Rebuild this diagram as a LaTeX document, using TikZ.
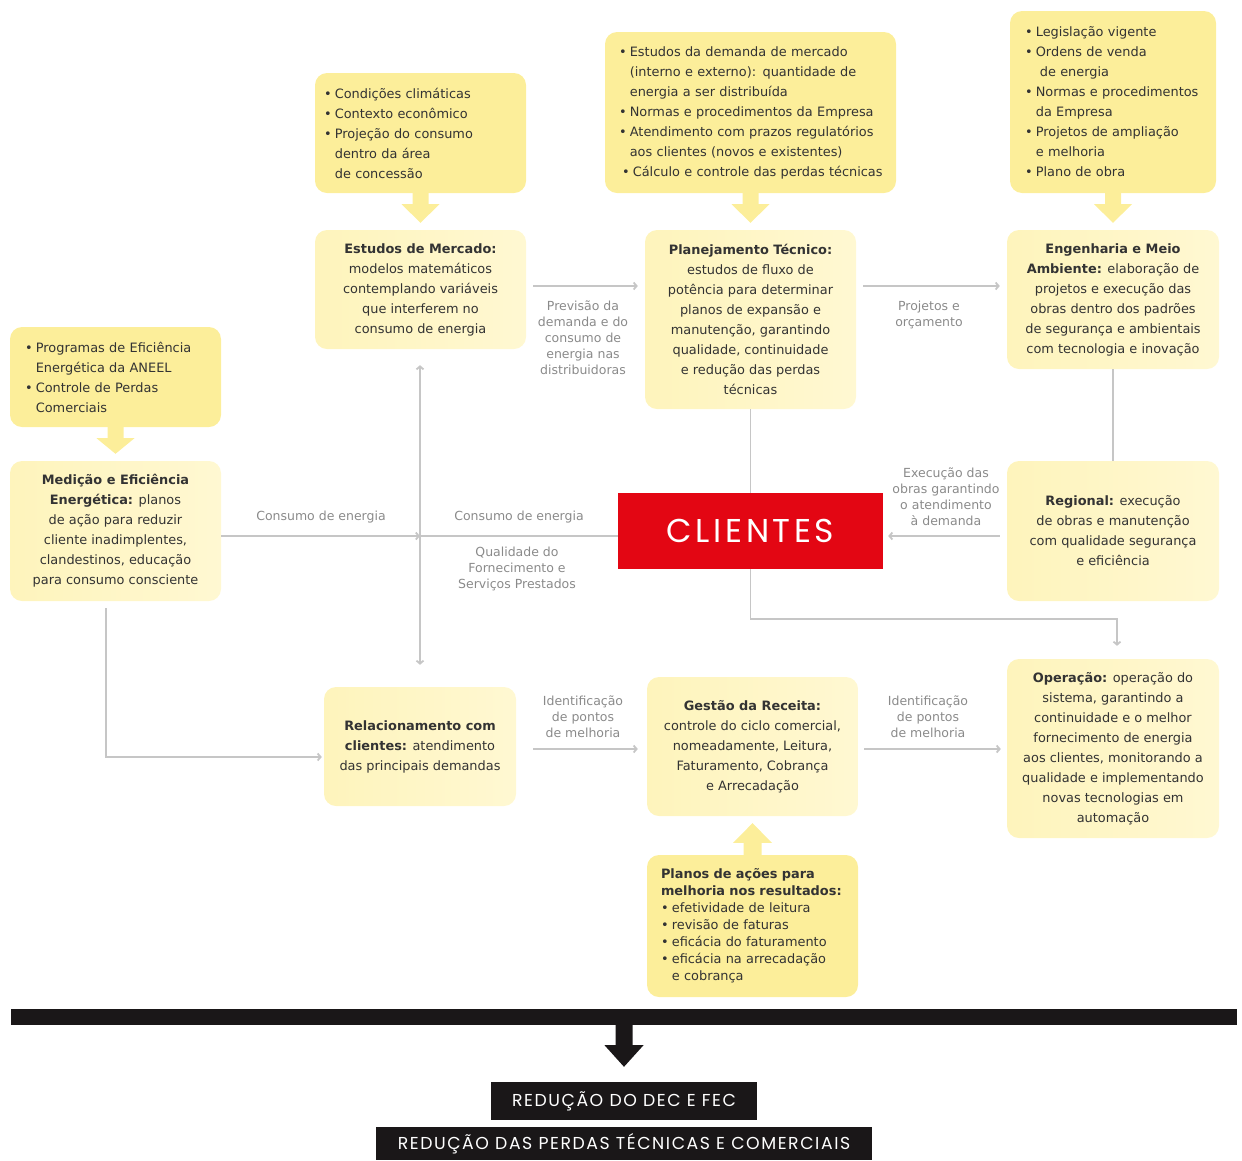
\documentclass[tikz,border=0pt]{standalone}
\usepackage{fontspec}
\setmainfont{DejaVu Sans}
\newfontfamily\popfont{Poppins}
\newfontfamily\popls{Poppins}[LetterSpace=9]
\usetikzlibrary{arrows.meta,calc}
\definecolor{srcY}{HTML}{FCEE9A}
\definecolor{mainY}{HTML}{FEF4BC}
\definecolor{mainYl}{HTML}{FFF8D2}
\definecolor{txt}{HTML}{333333}
\definecolor{lblgray}{HTML}{8A8A8A}
\definecolor{linegray}{HTML}{C6C6C6}
\definecolor{clred}{HTML}{E30613}
\definecolor{darkbar}{HTML}{1A1718}
\newcommand{\bodyfont}{\fontsize{12.9}{20}\selectfont}
\newcommand{\smallbody}{\fontsize{12.9}{17}\selectfont}
\newcommand{\bu}[1]{\mbox{\textbullet\hspace{0.25em}#1}}
\newcommand{\cu}[1]{\mbox{\hphantom{\textbullet\hspace{0.25em}}#1}}
\tikzset{
  srcbox/.style={rounded corners=12pt, fill=srcY, align=left, text=txt, font=\bodyfont, inner ysep=0pt},
  mainbox/.style={rounded corners=12pt, left color=mainY, right color=mainYl, align=center, text=txt, font=\bodyfont, inner sep=1pt},
  lbl/.style={align=center, text=lblgray, font=\fontsize{12.5}{16}\selectfont, inner sep=0pt},
  conn/.style={draw=linegray, line width=1.8pt},
  arr/.style={conn, -{Straight Barb[length=3pt,width=7pt]}},
  dblarr/.style={conn, {Straight Barb[length=3pt,width=7pt]}-{Straight Barb[length=3pt,width=7pt]}},
  fat/.style={fill=srcY},
  blackbox/.style={fill=darkbar, text=white, inner sep=0pt, font=\popls\fontsize{17.3}{17.3}\selectfont}
}
\newcommand{\fatdown}[2]{%
  \fill[fat] ($(#1.south)+(-8,-2)$) -- ($(#1.south)+(-8,11)$) -- ($(#1.south)+(-19,11)$) -- ($(#2.north)+(0,-7)$) -- ($(#1.south)+(19,11)$) -- ($(#1.south)+(8,11)$) -- ($(#1.south)+(8,-2)$) -- cycle;}
\begin{document}
\begin{tikzpicture}[x=1pt,y=-1pt]
\useasboundingbox (0,0) rectangle (1242,1160);

% source boxes
\node[srcbox, text width=193pt, inner xsep=9pt, minimum height=120pt] (s1) at (420.5,133) {%
\bu{Condições climáticas}\\ \bu{Contexto econômico}\\ \bu{Projeção do consumo}\\ \cu{dentro da área}\\ \cu{de concessão}};
\node[srcbox, text width=263pt, inner xsep=14pt, minimum height=161pt] (s2) at (750.5,112.5) {%
\bu{Estudos da demanda de mercado}\\ \cu{(interno e externo): quantidade de}\\ \cu{energia a ser distribuída}\\ \bu{Normas e procedimentos da Empresa}\\ \bu{Atendimento com prazos regulatórios}\\ \cu{aos clientes (novos e existentes)}\\ \hspace*{3pt}\bu{Cálculo e controle das perdas técnicas}};
\node[srcbox, text width=176pt, inner xsep=15pt, minimum height=182pt] (s3) at (1113,102) {%
\bu{Legislação vigente}\\ \bu{Ordens de venda}\\ \cu{\hspace*{4pt}de energia}\\ \bu{Normas e procedimentos}\\ \cu{da Empresa}\\ \bu{Projetos de ampliação}\\ \cu{e melhoria}\\ \bu{Plano de obra}};
\node[srcbox, text width=181pt, inner xsep=15pt, minimum height=100pt] (s4) at (115.5,377) {%
\bu{Programas de Eficiência}\\ \cu{Energética da ANEEL}\\ \bu{Controle de Perdas}\\ \cu{Comerciais}};
\node[srcbox, font=\smallbody, text width=183pt, inner xsep=14pt, minimum height=142pt] (s5) at (752.5,926) {%
\mbox{\textbf{Planos de ações para}}\\ \mbox{\textbf{melhoria nos resultados:}}\\ \bu{efetividade de leitura}\\ \bu{revisão de faturas}\\ \bu{eficácia do faturamento}\\ \bu{eficácia na arrecadação}\\ \cu{e cobrança}};

% main boxes
\node[mainbox, minimum width=211pt, minimum height=119pt] (m1) at (420.5,289.5) {%
\textbf{Estudos de Mercado:}\\ modelos matemáticos\\ contemplando variáveis\\ que interferem no\\ consumo de energia};
\node[mainbox, minimum width=211pt, minimum height=179pt] (m2) at (750.5,319.5) {%
\textbf{Planejamento Técnico:}\\ estudos de fluxo de\\ potência para determinar\\ planos de expansão e\\ manutenção, garantindo\\ qualidade, continuidade\\ e redução das perdas\\ técnicas};
\node[mainbox, minimum width=212pt, minimum height=139pt] (m3) at (1113,299.5) {%
\textbf{Engenharia e Meio}\\ \textbf{Ambiente:} elaboração de\\ projetos e execução das\\ obras dentro dos padrões\\ de segurança e ambientais\\ com tecnologia e inovação};
\node[mainbox, minimum width=211pt, minimum height=140pt] (m4) at (115.5,531) {%
\textbf{Medição e Eficiência}\\ \textbf{Energética:} planos\\ de ação para reduzir\\ cliente inadimplentes,\\ clandestinos, educação\\ para consumo consciente};
\node[mainbox, minimum width=212pt, minimum height=140pt] (m5) at (1113,531) {%
\textbf{Regional:} execução\\ de obras e manutenção\\ com qualidade segurança\\ e eficiência};
\node[mainbox, minimum width=192pt, minimum height=119pt] (m6) at (420,746.5) {%
\textbf{Relacionamento com}\\ \textbf{clientes:} atendimento\\ das principais demandas};
\node[mainbox, minimum width=211pt, minimum height=139pt] (m7) at (752.5,746.5) {%
\textbf{Gestão da Receita:}\\ controle do ciclo comercial,\\ nomeadamente, Leitura,\\ Faturamento, Cobrança\\ e Arrecadação};
\node[mainbox, minimum width=212pt, minimum height=179pt] (m8) at (1113,748.5) {%
\textbf{Operação:} operação do\\ sistema, garantindo a\\ continuidade e o melhor\\ fornecimento de energia\\ aos clientes, monitorando a\\ qualidade e implementando\\ novas tecnologias em\\ automação};

% clientes
\node[fill=clred, text=white, minimum width=265pt, minimum height=76pt, inner sep=0pt, font=\popfont\fontsize{33}{33}\selectfont] (cl) at (750.5,531) {\addfontfeatures{LetterSpace=11}CLIENTES};

% fat arrows
\fatdown{s1}{m1}
\fatdown{s2}{m2}
\fatdown{s3}{m3}
\fatdown{s4}{m4}
\fill[fat] ($(s5.north)+(-9,2)$) -- ($(s5.north)+(-9,-12)$) -- ($(s5.north)+(-19.5,-12)$) -- ($(m7.south)+(0,7)$) -- ($(s5.north)+(19.5,-12)$) -- ($(s5.north)+(9,-12)$) -- ($(s5.north)+(9,2)$) -- cycle;

% connectors
\draw[arr] ([xshift=7pt]m1.east |- 0,286) -- ([xshift=-7pt]m2.west |- 0,286);
\draw[arr] ([xshift=7pt]m2.east |- 0,286) -- ([xshift=-7pt]m3.west |- 0,286);
\draw[conn] (m3.south) -- (m5.north);
\draw[arr] ([xshift=-7pt]m5.west |- 0,536) -- ([xshift=5pt]cl.east |- 0,536);
\draw[conn] (m2.south) -- (cl.north);
\coordinate (cross) at (420,536);
\draw[arr] (m4.east |- 0,536) -- (cross);
\draw[conn] (cross) -- (cl.west |- 0,536);
\draw[dblarr] ($(m1.south)+(-0.5,16)$) -- ($(m6.north)+(0,-22)$);
\draw[arr] (cl.south) |- (1117,619) -- ($(m8.north)+(4,-13)$);
\draw[arr] ($(m4.south)+(-9.5,7)$) |- ($(m6.west)+(-2,10.5)$);
\draw[arr] ([xshift=17pt]m6.east |- 0,749) -- ([xshift=-9pt]m7.west |- 0,749);
\draw[arr] ([xshift=6pt]m7.east |- 0,749) -- ([xshift=-6pt]m8.west |- 0,749);

% labels
\node[lbl] (l1) at (583,338) {Previsão da\\ demanda e do\\ consumo de\\ energia nas\\ distribuidoras};
\node[lbl] (l2) at (929,315) {Projetos e\\ orçamento};
\node[lbl] (l3) at (946,497) {Execução das\\ obras garantindo\\ o atendimento\\ à demanda};
\node[lbl] (l4) at (321,517) {Consumo de energia};
\node[lbl] (l5) at (519,517) {Consumo de energia};
\node[lbl] (l6) at (517,569) {Qualidade do\\ Fornecimento e\\ Serviços Prestados};
\node[lbl] (l7) at (583,717) {Identificação\\ de pontos\\ de melhoria};
\node[lbl] (l8) at (928,717) {Identificação\\ de pontos\\ de melhoria};

% bottom
\node[fill=darkbar, minimum width=1226pt, minimum height=16pt, inner sep=0pt] (bar) at (624,1017) {};
\node[blackbox, minimum width=266pt, minimum height=38pt] (r1) at (624,1101) {REDUÇÃO DO DEC E FEC};
\node[blackbox, minimum width=496pt, minimum height=33pt] (r2) at (624,1143.5) {REDUÇÃO DAS PERDAS TÉCNICAS E COMERCIAIS};
\fill[darkbar] ($(bar.south)+(-8.5,-2)$) -- ($(bar.south)+(-8.5,20)$) -- ($(bar.south)+(-19.5,20)$) -- ($(r1.north)+(0,-15)$) -- ($(bar.south)+(19.5,20)$) -- ($(bar.south)+(8.5,20)$) -- ($(bar.south)+(8.5,-2)$) -- cycle;
\end{tikzpicture}
\end{document}
